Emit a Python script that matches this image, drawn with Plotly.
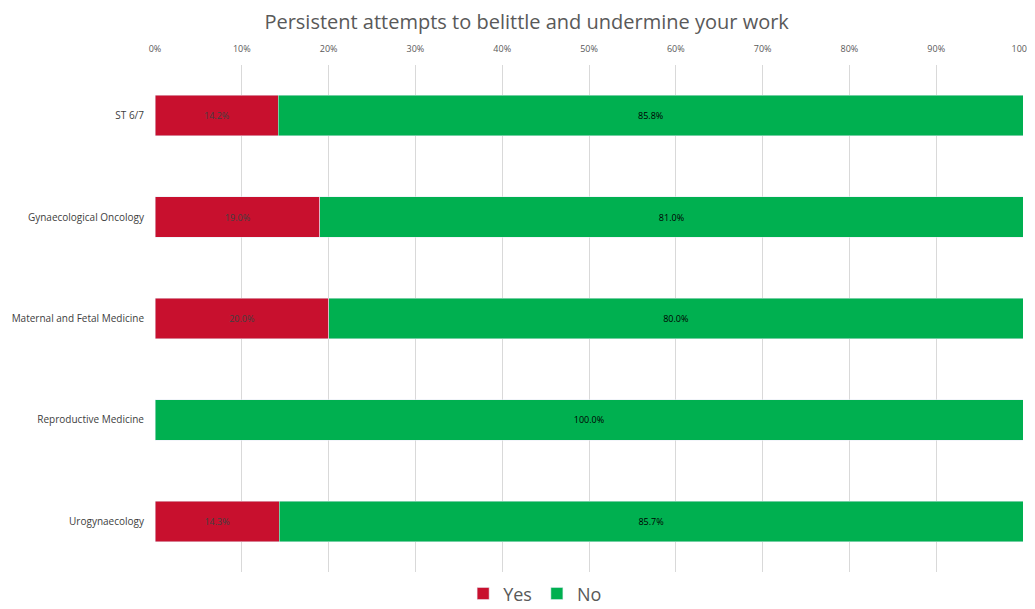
import plotly.graph_objects as go

categories = ["ST 6/7", "Gynaecological Oncology", "Maternal and Fetal Medicine",
              "Reproductive Medicine", "Urogynaecology"]
yes_vals = [14.2, 19.0, 20.0, 0.0, 14.3]
no_vals = [85.8, 81.0, 80.0, 100.0, 85.7]
tick_vals = [0, 10, 20, 30, 40, 50, 60, 70, 80, 90, 100]
tick_text = [f"{v}%" for v in tick_vals]

def labels(vals):
    return [f"{v:.1f}%" if v > 0 else "" for v in vals]

fig = go.Figure()
fig.add_trace(go.Bar(
    name="Yes", y=categories, x=yes_vals, orientation="h",
    marker=dict(color="#C8102E"),
    text=labels(yes_vals), textposition="inside", insidetextanchor="middle",
    textfont=dict(color="#404040", size=9, family="Open Sans"),
    hoverinfo="x+y", width=0.4,
))
fig.add_trace(go.Bar(
    name="No", y=categories, x=no_vals, orientation="h",
    marker=dict(color="#00B050"),
    text=labels(no_vals), textposition="inside", insidetextanchor="middle",
    textfont=dict(color="#000000", size=9, family="Open Sans"),
    hoverinfo="x+y", width=0.4,
))

fig.update_layout(
    barmode="stack",
    width=1027, height=601,
    margin=dict(l=147, r=12, t=57, b=37, autoexpand=False),
    paper_bgcolor="white", plot_bgcolor="white",
    font=dict(family="Open Sans", color="#595959"),
    title=dict(text="Persistent attempts to belittle and undermine your work",
               x=0.505, xanchor="center", y=0.977, yanchor="middle",
               font=dict(size=20, color="#595959")),
    xaxis=dict(side="top", range=[0, 100], tickvals=tick_vals, ticktext=tick_text,
               showgrid=True, gridcolor="#D9D9D9", gridwidth=1,
               zeroline=False, showline=False,
               tickfont=dict(size=9, color="#595959"), ticks="", ticklabelstandoff=10),
    yaxis=dict(autorange="reversed", showgrid=False, showline=False, ticks="",
               tickfont=dict(size=10, color="#404040"), ticklabelstandoff=10),
    legend=dict(orientation="h", x=0.355, xanchor="left", y=-0.043, yanchor="middle",
                font=dict(size=18, color="#595959"), traceorder="normal",
                itemwidth=30),
    uniformtext=dict(mode="show", minsize=8),
)

fig.write_html("out.html")
